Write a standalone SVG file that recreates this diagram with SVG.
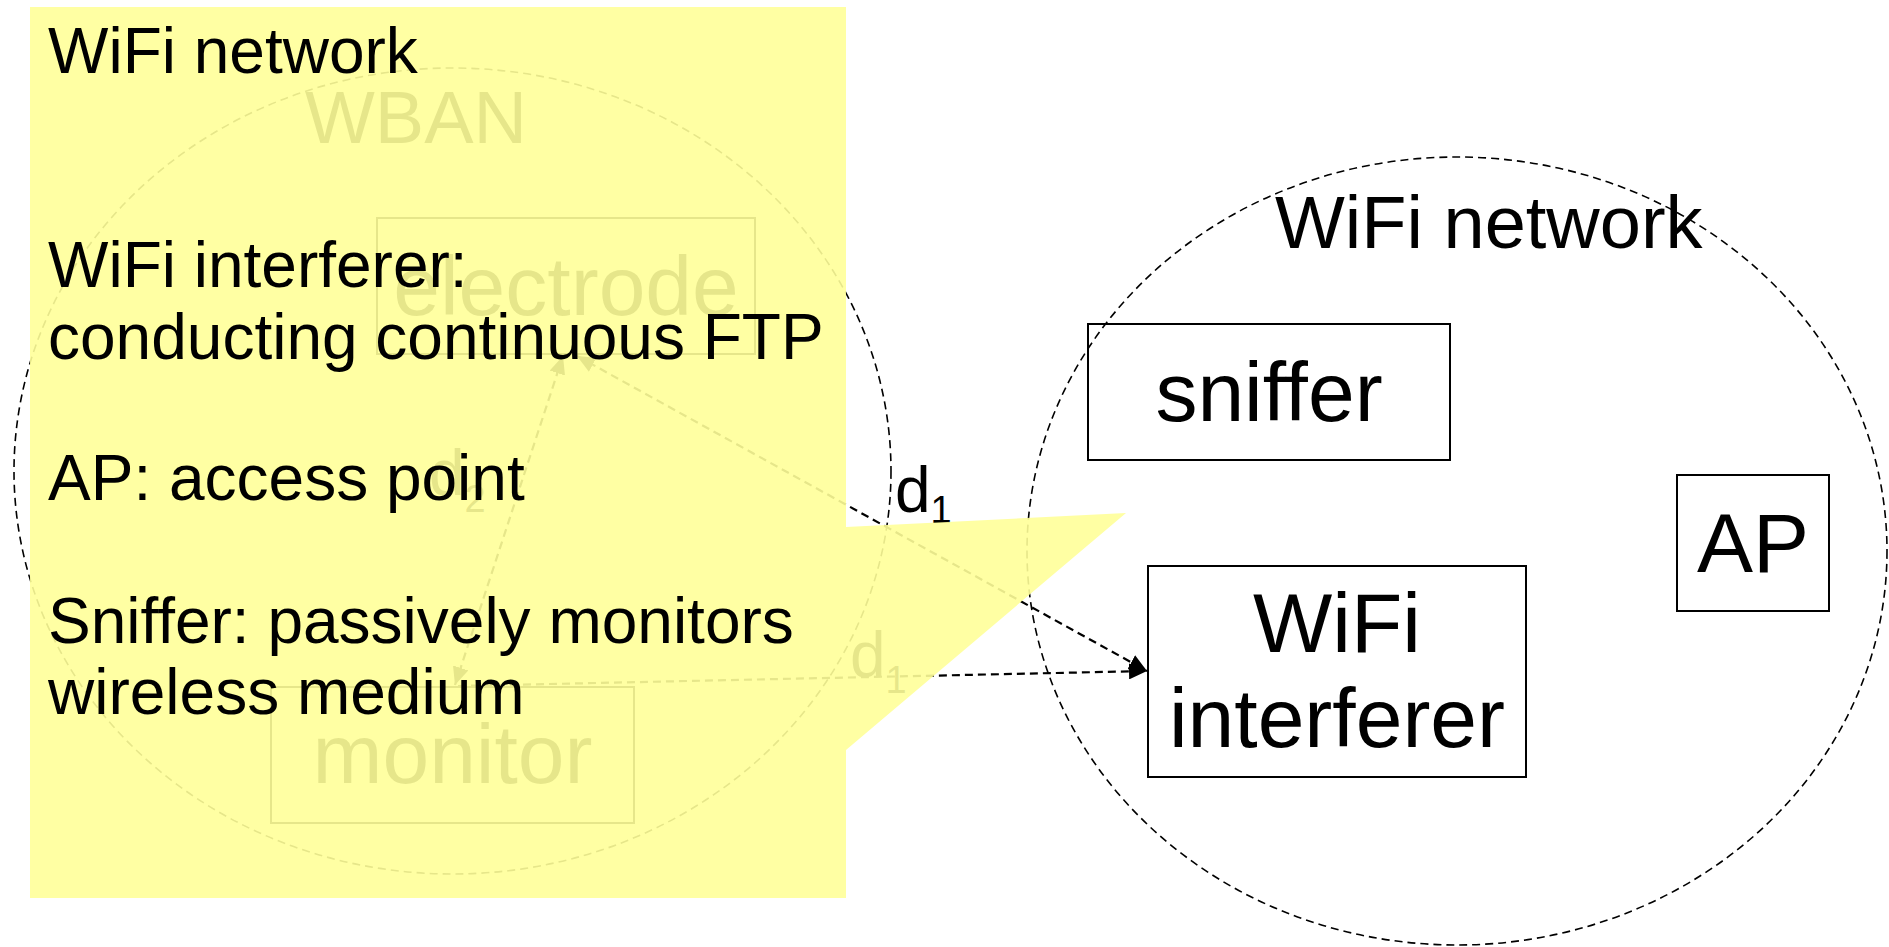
<svg xmlns="http://www.w3.org/2000/svg" width="1889" height="947" viewBox="0 0 1889 947">
  <style>
    text { font-family: "Liberation Sans", Arial, sans-serif; fill: #000; }
    .zone { fill: none; stroke: #000; stroke-width: 1.6; stroke-dasharray: 8 5; }
    .box { fill: none; stroke: #000; stroke-width: 2; }
    .link { fill: none; stroke: #000; stroke-width: 2.2; stroke-dasharray: 8 5; }
    .big { font-size: 84px; text-anchor: middle; }
    .title { font-size: 74px; }
    .dist { font-size: 64px; }
    .note { font-size: 64px; }
  </style>
  <defs>
    <marker id="arrow" markerUnits="userSpaceOnUse" markerWidth="18" markerHeight="16" refX="18" refY="8" orient="auto-start-reverse">
      <path d="M0,0 L18,8 L0,16 Z" fill="#000"/>
    </marker>
  </defs>

  <!-- body area network -->
  <g id="wban">
    <ellipse class="zone" cx="452.5" cy="471" rx="438.5" ry="403"/>
    <text class="title" x="305" y="143">WBAN</text>
  </g>
  <g id="electrode">
    <rect class="box" x="377" y="218" width="378" height="136"/>
    <text class="big" x="566" y="315">electrode</text>
  </g>
  <g id="monitor">
    <rect class="box" x="271" y="687" width="363" height="136"/>
    <text class="big" x="452.5" y="783">monitor</text>
  </g>

  <!-- WiFi network -->
  <g id="wifi-network">
    <ellipse class="zone" cx="1457" cy="551" rx="430" ry="394"/>
    <text class="title" x="1275" y="248">WiFi network</text>
  </g>
  <g id="sniffer">
    <rect class="box" x="1088" y="324" width="362" height="136"/>
    <text class="big" x="1269" y="421">sniffer</text>
  </g>
  <g id="ap">
    <rect class="box" x="1677" y="475" width="152" height="136"/>
    <text class="big" x="1753" y="572">AP</text>
  </g>
  <g id="interferer">
    <rect class="box" x="1148" y="566" width="378" height="211"/>
    <text class="big" x="1337" y="652">WiFi</text>
    <text class="big" x="1337" y="747">interferer</text>
  </g>

  <!-- distances between nodes -->
  <g id="connectors">
    <line class="link" x1="455" y1="685" x2="563" y2="356" marker-start="url(#arrow)" marker-end="url(#arrow)"/>
    <line class="link" x1="577" y1="356" x2="1147" y2="671" marker-start="url(#arrow)" marker-end="url(#arrow)"/>
    <line class="link" x1="458" y1="686" x2="1147" y2="671" marker-end="url(#arrow)"/>
    <text class="dist" x="429" y="495">d<tspan font-size="38" dy="17">2</tspan></text>
    <text class="dist" x="895" y="512">d<tspan font-size="38" dy="11">1</tspan></text>
    <text class="dist" x="850" y="677">d<tspan font-size="38" dy="16">1</tspan></text>
  </g>

  <!-- legend callout -->
  <g id="callout">
    <polygon points="30,7 846,7 846,527 1126,513 846,750 846,898 30,898" fill="#FFFF99" fill-opacity="0.9"/>
    <text class="note">
      <tspan x="48" y="73">WiFi network</tspan>
      <tspan x="48" y="287">WiFi interferer:</tspan>
      <tspan x="48" y="359">conducting continuous FTP</tspan>
      <tspan x="48" y="500">AP: access point</tspan>
      <tspan x="48" y="643">Sniffer: passively monitors</tspan>
      <tspan x="48" y="714">wireless medium</tspan>
    </text>
  </g>
</svg>
